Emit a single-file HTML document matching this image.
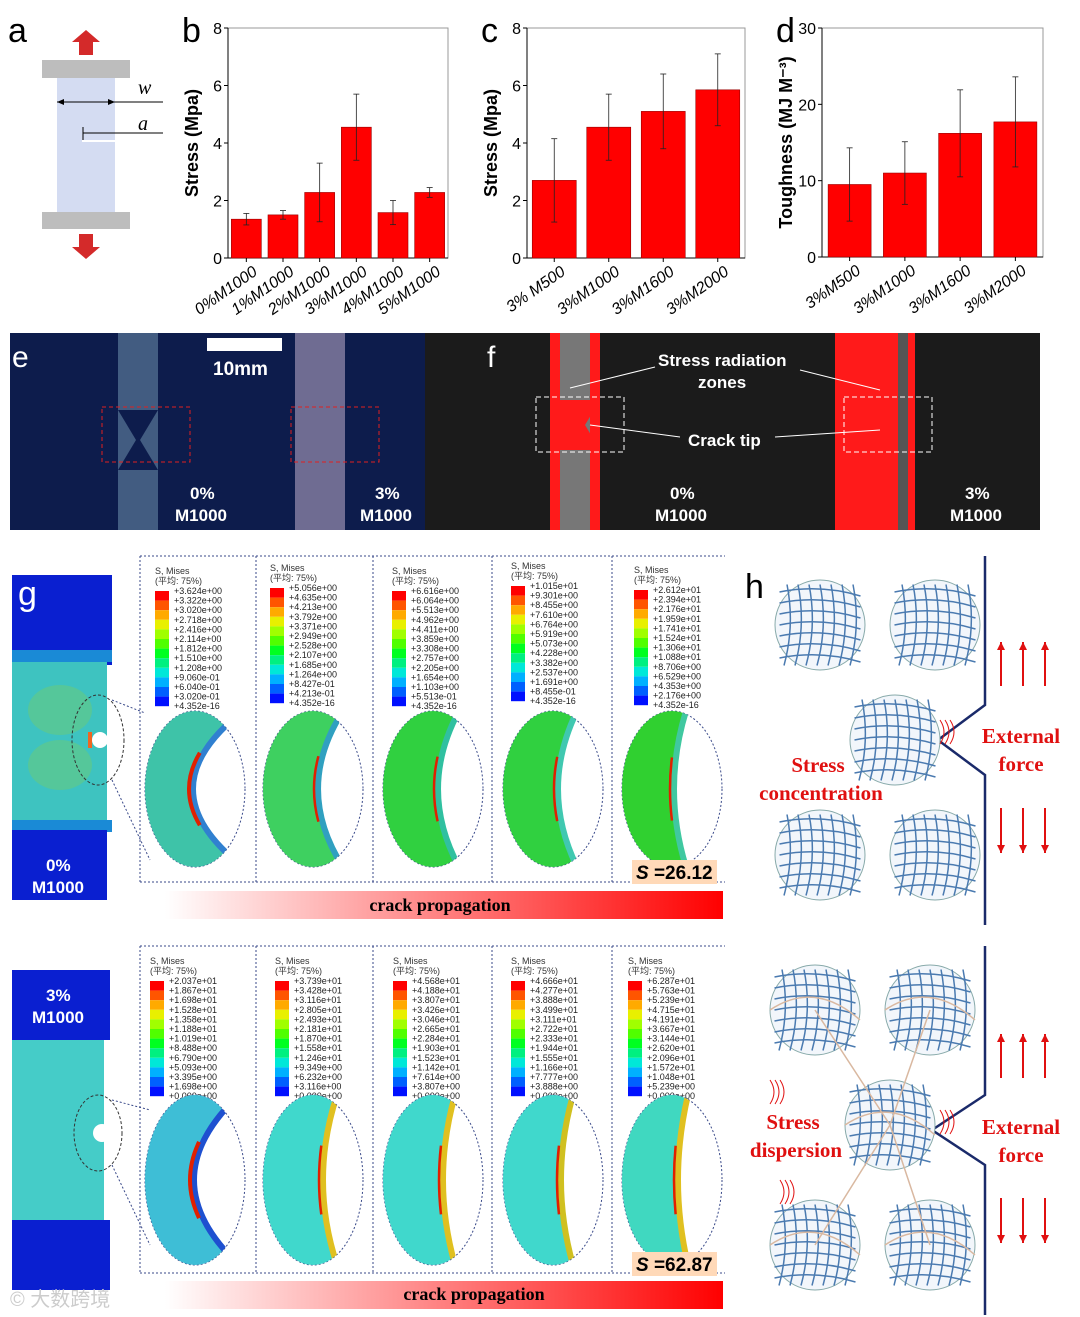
<!DOCTYPE html>
<html><head><meta charset="utf-8"><style>
body{margin:0;background:#fff}
svg{display:block;font-family:"Liberation Sans","Noto Sans CJK SC",sans-serif}
</style></head><body>
<svg id="fig" width="1080" height="1317" viewBox="0 0 1080 1317" xmlns="http://www.w3.org/2000/svg">
<defs id="defs">
<linearGradient id="crackG" x1="0" x2="1"><stop offset="0" stop-color="#fff"/><stop offset="1" stop-color="#f00"/></linearGradient>
</defs>
<!-- panel a -->
<g>
<text x="8" y="42" font-size="34">a</text>
<rect x="57" y="78" width="58" height="134" fill="#d4dcf2"/>
<rect x="42" y="60" width="88" height="18" fill="#bdbdbd"/>
<rect x="42" y="212" width="88" height="17" fill="#bdbdbd"/>
<polygon points="86,30 100,42 93,42 93,55 79,55 79,42 72,42" fill="#d42a2a"/>
<polygon points="86,259 100,247 93,247 93,234 79,234 79,247 72,247" fill="#d42a2a"/>
<line x1="57" y1="102" x2="163" y2="102" stroke="#000"/><polygon points="57,102 64,99 64,105"/><polygon points="115,102 108,99 108,105"/>
<text x="138" y="94" font-size="20" font-style="italic" font-family="Liberation Serif,serif">w</text>
<line x1="83" y1="133" x2="163" y2="133" stroke="#000"/><line x1="83" y1="127" x2="83" y2="140" stroke="#000"/>
<line x1="82" y1="141" x2="115" y2="141" stroke="#fff" stroke-width="2"/>
<text x="138" y="130" font-size="20" font-style="italic" font-family="Liberation Serif,serif">a</text>
</g>
<g id="charts"></g>
<!-- panel e -->
<g>
<rect x="10" y="333" width="415" height="197" fill="#0d1c4c"/>
<rect x="118" y="333" width="40" height="197" fill="#5a7898" opacity="0.7"/>
<rect x="295" y="333" width="50" height="197" fill="#9a8fb0" opacity="0.7"/>
<polygon points="118,410 158,410 140,440 158,470 118,470 136,440" fill="#0d1c4c"/>
<rect x="102" y="407" width="88" height="55" fill="none" stroke="#e02020" stroke-dasharray="4,3"/>
<rect x="291" y="407" width="88" height="55" fill="none" stroke="#e02020" stroke-dasharray="4,3"/>
<rect x="207" y="338" width="75" height="13" fill="#fff"/>
<text x="213" y="375" font-size="19" font-weight="bold" fill="#fff">10mm</text>
<text x="12" y="367" font-size="30" fill="#fff">e</text>
<text x="190" y="499" font-size="17" font-weight="bold" fill="#fff">0%</text>
<text x="175" y="521" font-size="17" font-weight="bold" fill="#fff">M1000</text>
<text x="375" y="499" font-size="17" font-weight="bold" fill="#fff">3%</text>
<text x="360" y="521" font-size="17" font-weight="bold" fill="#fff">M1000</text>
</g>
<!-- panel f -->
<g>
<rect x="425" y="333" width="615" height="197" fill="#1b1b1b"/>
<rect x="550" y="333" width="50" height="197" fill="#ff1a1a"/>
<rect x="560" y="333" width="30" height="197" fill="#777"/>
<polygon points="560,400 600,400 585,425 600,450 560,450" fill="#ff1a1a"/>
<rect x="835" y="333" width="80" height="197" fill="#ff1a1a"/>
<rect x="898" y="333" width="10" height="197" fill="#555"/>
<rect x="536" y="397" width="88" height="55" fill="none" stroke="#fff" stroke-dasharray="5,3"/>
<rect x="844" y="397" width="88" height="55" fill="none" stroke="#fff" stroke-dasharray="5,3"/>
<text x="487" y="367" font-size="30" fill="#fff">f</text>
<text x="658" y="366" font-size="17" font-weight="bold" fill="#fff">Stress radiation</text>
<text x="698" y="388" font-size="17" font-weight="bold" fill="#fff">zones</text>
<text x="688" y="446" font-size="17" font-weight="bold" fill="#fff">Crack tip</text>
<line x1="655" y1="367" x2="570" y2="388" stroke="#fff"/><line x1="800" y1="370" x2="880" y2="390" stroke="#fff"/>
<line x1="680" y1="437" x2="590" y2="425" stroke="#fff"/><line x1="775" y1="437" x2="880" y2="430" stroke="#fff"/>
<text x="670" y="499" font-size="17" font-weight="bold" fill="#fff">0%</text>
<text x="655" y="521" font-size="17" font-weight="bold" fill="#fff">M1000</text>
<text x="965" y="499" font-size="17" font-weight="bold" fill="#fff">3%</text>
<text x="950" y="521" font-size="17" font-weight="bold" fill="#fff">M1000</text>
</g>
<!-- panel g specimens -->
<g>
<rect x="12" y="575" width="100" height="90" fill="#0a1fd0"/>
<rect x="12" y="655" width="95" height="175" fill="#3ec3c0"/>
<rect x="12" y="650" width="100" height="12" fill="#1a8ad6"/>
<rect x="12" y="820" width="100" height="12" fill="#1a8ad6"/>
<ellipse cx="60" cy="710" rx="32" ry="25" fill="#55c79a"/>
<ellipse cx="60" cy="765" rx="32" ry="25" fill="#55c79a"/>
<rect x="12" y="830" width="95" height="70" fill="#0a1fd0"/>
<ellipse cx="98" cy="740" rx="26" ry="45" fill="none" stroke="#333" stroke-dasharray="3,2"/>
<circle cx="100" cy="740" r="8" fill="#fff"/><rect x="88" y="732" width="4" height="16" fill="#e62"/>
<line x1="112" y1="700" x2="145" y2="713" stroke="#3a4a8a" stroke-dasharray="2,2"/>
<line x1="112" y1="780" x2="150" y2="860" stroke="#3a4a8a" stroke-dasharray="2,2"/>
<text x="18" y="605" font-size="34" fill="#fff">g</text>
<text x="46" y="871" font-size="17" font-weight="bold" fill="#fff">0%</text>
<text x="32" y="893" font-size="17" font-weight="bold" fill="#fff">M1000</text>
<rect x="12" y="970" width="98" height="70" fill="#0a1fd0"/>
<rect x="12" y="1040" width="92" height="180" fill="#45ccc8"/>
<rect x="12" y="1220" width="98" height="70" fill="#0a1fd0"/>
<ellipse cx="98" cy="1133" rx="24" ry="38" fill="none" stroke="#333" stroke-dasharray="3,2"/>
<circle cx="102" cy="1133" r="9" fill="#fff"/>
<line x1="112" y1="1100" x2="150" y2="1110" stroke="#3a4a8a" stroke-dasharray="2,2"/>
<line x1="112" y1="1165" x2="150" y2="1245" stroke="#3a4a8a" stroke-dasharray="2,2"/>
<text x="46" y="1001" font-size="17" font-weight="bold" fill="#fff">3%</text>
<text x="32" y="1023" font-size="17" font-weight="bold" fill="#fff">M1000</text>
<rect x="165" y="891" width="558" height="28" fill="url(#crackG)"/>
<text x="440" y="911" font-size="18" font-weight="bold" text-anchor="middle" font-family="Liberation Serif,serif">crack propagation</text>
<rect x="165" y="1281" width="558" height="28" fill="url(#crackG)"/>
<text x="474" y="1300" font-size="18" font-weight="bold" text-anchor="middle" font-family="Liberation Serif,serif">crack propagation</text>
</g>
<g id="fea"></g>
<g>
<rect x="632" y="860" width="85" height="24" fill="#ffd9b8"/>
<text x="636" y="879" font-size="19" font-weight="bold"><tspan font-style="italic">S</tspan> =26.12</text>
<rect x="632" y="1252" width="85" height="24" fill="#ffd9b8"/>
<text x="636" y="1271" font-size="19" font-weight="bold"><tspan font-style="italic">S</tspan> =62.87</text>
</g>
<!-- panel h -->
<g id="h">
<text x="745" y="598" font-size="34">h</text>
<path d="M985,556 L985,705 L938,740 L985,775 L985,925" fill="none" stroke="#1a2a6a" stroke-width="2.5"/>
<path d="M985,946 L985,1095 L932,1130 L985,1165 L985,1315" fill="none" stroke="#1a2a6a" stroke-width="2.5"/>
<text x="1021" y="743" font-size="21" fill="#e01010" text-anchor="middle" font-family="Liberation Serif,serif" font-weight="bold">External</text>
<text x="1021" y="771" font-size="21" fill="#e01010" text-anchor="middle" font-family="Liberation Serif,serif" font-weight="bold">force</text>
<text x="818" y="772" font-size="21" fill="#e01010" text-anchor="middle" font-family="Liberation Serif,serif" font-weight="bold">Stress</text>
<text x="821" y="800" font-size="21" fill="#e01010" text-anchor="middle" font-family="Liberation Serif,serif" font-weight="bold">concentration</text>
<text x="1021" y="1134" font-size="21" fill="#e01010" text-anchor="middle" font-family="Liberation Serif,serif" font-weight="bold">External</text>
<text x="1021" y="1162" font-size="21" fill="#e01010" text-anchor="middle" font-family="Liberation Serif,serif" font-weight="bold">force</text>
<text x="793" y="1129" font-size="21" fill="#e01010" text-anchor="middle" font-family="Liberation Serif,serif" font-weight="bold">Stress</text>
<text x="796" y="1157" font-size="21" fill="#e01010" text-anchor="middle" font-family="Liberation Serif,serif" font-weight="bold">dispersion</text>
</g>
<text x="10" y="1306" font-size="20" fill="#ccc">© 大数跨境</text>
</svg>
<script>
const NS='http://www.w3.org/2000/svg';
function mk(p,t,a,txt){const e=document.createElementNS(NS,t);for(const k in a)e.setAttribute(k,a[k]);if(txt!==undefined)e.textContent=txt;p.appendChild(e);return e;}
// chart data
const catsB=['0%M1000','1%M1000','2%M1000','3%M1000','4%M1000','5%M1000'];
const valsB=[1.35,1.5,2.28,4.55,1.58,2.28];
const errB=[0.2,0.15,1.02,1.15,0.42,0.17];
const catsC=['3%  M500','3%M1000','3%M1600','3%M2000'];
const valsC=[2.7,4.55,5.1,5.85];
const errC=[1.45,1.15,1.3,1.25];
const catsD=['3%M500','3%M1000','3%M1600','3%M2000'];
const valsD=[9.5,11,16.2,17.7];
const errD=[4.8,4.1,5.7,5.9];
const ticksStress=[0,2,4,6,8];
const ticksTough=[0,10,20,30];
const charts=document.getElementById('charts');
function chart(o){
  const g=mk(charts,'g',{});
  
  
  const y=v=>o.y1-(v-o.min)/(o.max-o.min)*(o.y1-o.y0);
  const step=(o.x1-o.x0)/o.cats.length;
  const x=i=>o.x0+step*(i+0.5);
  mk(g,'rect',{x:o.x0,y:o.y0,width:o.x1-o.x0,height:o.y1-o.y0,fill:'none',stroke:'#999'});
  mk(g,'line',{x1:o.x0,y1:o.y0,x2:o.x0,y2:o.y1,stroke:'#000'});
  mk(g,'line',{x1:o.x0,y1:o.y1,x2:o.x1,y2:o.y1,stroke:'#000'});
  o.ticks.forEach(t=>{const yy=y(t);
    mk(g,'line',{x1:o.x0-4,y1:yy,x2:o.x0,y2:yy,stroke:'#000'});
    const tl=mk(g,'text',{x:o.x0-6,y:yy+6,'font-size':16,'text-anchor':'end'},t);
    
    });
  o.cats.forEach((c,i)=>{
    const b=mk(g,'rect',{x:x(i)-o.bw/2,y:y(o.vals[i]),width:o.bw,height:y(o.min)-y(o.vals[i]),fill:'#ff0000',stroke:'#900','stroke-width':0.6});
    
    
    const t=y(o.vals[i]+o.err[i]),bo=y(o.vals[i]-o.err[i]);
    mk(g,'line',{x1:x(i),y1:t,x2:x(i),y2:bo,stroke:'#222','stroke-width':0.8});
    mk(g,'line',{x1:x(i)-3,y1:t,x2:x(i)+3,y2:t,stroke:'#222','stroke-width':0.8});
    mk(g,'line',{x1:x(i)-3,y1:bo,x2:x(i)+3,y2:bo,stroke:'#222','stroke-width':0.8});
    mk(g,'line',{x1:x(i),y1:o.y1,x2:x(i),y2:o.y1+4,stroke:'#000'});
    const l=mk(g,'text',{x:x(i)+12,y:o.y1+16,'font-size':16,'font-style':'italic','text-anchor':'end',transform:`rotate(-35 ${x(i)+12} ${o.y1+16})`},c);
    
    
  });
  const cy=(o.y0+o.y1)/2;
  const at=mk(g,'text',{x:o.x0-30,y:cy,'font-size':18,'font-weight':'bold','text-anchor':'middle',transform:`rotate(-90 ${o.x0-30} ${cy})`},o.title);
  
  
  const pl=mk(g,'text',{x:o.x0-46,y:o.y0+14,'font-size':34},o.id);
  
  
}
chart({id:'b',x0:228,x1:448,y0:28,y1:258,min:0,max:8,ticks:ticksStress,cats:catsB,vals:valsB,err:errB,bw:30,title:'Stress (Mpa)'});
chart({id:'c',x0:527,x1:745,y0:28,y1:258,min:0,max:8,ticks:ticksStress,cats:catsC,vals:valsC,err:errC,bw:44,title:'Stress (Mpa)'});
chart({id:'d',x0:822,x1:1043,y0:28,y1:257,min:0,max:30,ticks:ticksTough,cats:catsD,vals:valsD,err:errD,bw:43,title:'Toughness (MJ M⁻³)'});

// FEA legends
const fea=document.getElementById('fea');
const defs=document.getElementById('defs');
const cols=['#ff0000','#ff5500','#ffaa00','#e8f000','#a0ff00','#50ff00','#00ff20','#00f080','#00e8d8','#00b0ff','#0060ff','#0010ff'];
const topLeg=[
['+3.624e+00','+3.322e+00','+3.020e+00','+2.718e+00','+2.416e+00','+2.114e+00','+1.812e+00','+1.510e+00','+1.208e+00','+9.060e-01','+6.040e-01','+3.020e-01','+4.352e-16'],
['+5.056e+00','+4.635e+00','+4.213e+00','+3.792e+00','+3.371e+00','+2.949e+00','+2.528e+00','+2.107e+00','+1.685e+00','+1.264e+00','+8.427e-01','+4.213e-01','+4.352e-16'],
['+6.616e+00','+6.064e+00','+5.513e+00','+4.962e+00','+4.411e+00','+3.859e+00','+3.308e+00','+2.757e+00','+2.205e+00','+1.654e+00','+1.103e+00','+5.513e-01','+4.352e-16'],
['+1.015e+01','+9.301e+00','+8.455e+00','+7.610e+00','+6.764e+00','+5.919e+00','+5.073e+00','+4.228e+00','+3.382e+00','+2.537e+00','+1.691e+00','+8.455e-01','+4.352e-16'],
['+2.612e+01','+2.394e+01','+2.176e+01','+1.959e+01','+1.741e+01','+1.524e+01','+1.306e+01','+1.088e+01','+8.706e+00','+6.529e+00','+4.353e+00','+2.176e+00','+4.352e-16']];
const botLeg=[
['+2.037e+01','+1.867e+01','+1.698e+01','+1.528e+01','+1.358e+01','+1.188e+01','+1.019e+01','+8.488e+00','+6.790e+00','+5.093e+00','+3.395e+00','+1.698e+00','+0.000e+00'],
['+3.739e+01','+3.428e+01','+3.116e+01','+2.805e+01','+2.493e+01','+2.181e+01','+1.870e+01','+1.558e+01','+1.246e+01','+9.349e+00','+6.232e+00','+3.116e+00','+0.000e+00'],
['+4.568e+01','+4.188e+01','+3.807e+01','+3.426e+01','+3.046e+01','+2.665e+01','+2.284e+01','+1.903e+01','+1.523e+01','+1.142e+01','+7.614e+00','+3.807e+00','+0.000e+00'],
['+4.666e+01','+4.277e+01','+3.888e+01','+3.499e+01','+3.111e+01','+2.722e+01','+2.333e+01','+1.944e+01','+1.555e+01','+1.166e+01','+7.777e+00','+3.888e+00','+0.000e+00'],
['+6.287e+01','+5.763e+01','+5.239e+01','+4.715e+01','+4.191e+01','+3.667e+01','+3.144e+01','+2.620e+01','+2.096e+01','+1.572e+01','+1.048e+01','+5.239e+00','+0.000e+00']];
const topX=[155,270,392,511,634], topY=[588,585,588,583,587];
const botX=[150,275,393,511,628], botY=[978,978,978,978,978];
const ellX=[195,313,433,553,672];
let cid=0;
function row(leg,xs,ys,ecy,ery,fill,edge,y0,y1,bx,cut){
  mk(fea,'line',{x1:bx[0],y1:y0,x2:725,y2:y0,stroke:'#3a4a8a','stroke-dasharray':'2,2'});
  mk(fea,'line',{x1:bx[0],y1:y1,x2:725,y2:y1,stroke:'#3a4a8a','stroke-dasharray':'2,2'});
  bx.forEach(b=>mk(fea,'line',{x1:b,y1:y0,x2:b,y2:y1,stroke:'#3a4a8a','stroke-dasharray':'2,2'}));
  leg.forEach((L,k)=>{
    const g=mk(fea,'g',{});
    
    
    mk(g,'text',{x:xs[k],y:ys[k]-14,'font-size':9,fill:'#333'},'S, Mises');
    mk(g,'text',{x:xs[k],y:ys[k]-4,'font-size':9,fill:'#333'},'(平均: 75%)');
    cols.forEach((c,i)=>mk(g,'rect',{x:xs[k],y:ys[k]+i*9.6+3,width:14,height:9.6,fill:c}));
    L.forEach((v,i)=>mk(g,'text',{x:xs[k]+19,y:ys[k]+i*9.6+6,'font-size':9,fill:'#222'},v));
    const cx=ellX[k];
    const id='ec'+(cid++);
    const cp=mk(defs,'clipPath',{id});
    mk(cp,'ellipse',{cx,cy:ecy,rx:50,ry:ery});
    const e=mk(fea,'g',{});
    
    
    mk(e,'ellipse',{cx:cx,cy:ecy,rx:50,ry:ery,fill:'#fff',stroke:'#3a4a8a','stroke-dasharray':'2,2'});
    const c=cut[k];
    const inner=mk(e,'g',{'clip-path':`url(#${id})`});
    const bd=`M${cx+c[0]},${ecy-ery} Q${cx+c[1]},${ecy} ${cx+c[0]},${ecy+ery}`;
    mk(inner,'path',{d:`M${cx-60},${ecy-ery} L${cx+c[0]},${ecy-ery} Q${cx+c[1]},${ecy} ${cx+c[0]},${ecy+ery} L${cx-60},${ecy+ery}Z`,fill:fill[k]});
    mk(inner,'path',{d:bd,fill:'none',stroke:edge[k],'stroke-width':6});
    mk(inner,'path',{d:bd,fill:'none',stroke:'#e02000','stroke-width':k==0?4:2.5,pathLength:100,'stroke-dasharray':'0 30 40 100',transform:'translate(-4,0)'});
  });
}
row(topLeg,topX,topY,789,78,['#3ec3a8','#3ed060','#30d040','#30d040','#30d030'],['#3080d0','#30a0c0','#30c0a0','#40c8b0','#40c8a0'],556,882,[140,256,373,492,612],
  [[48,-52],[30,-20],[26,-16],[24,-14],[14,-10]]);
row(botLeg,botX,botY,1180,85,['#3ebed6','#40d8cc','#40d8cc','#40d8cc','#40d8c0'],['#1e50d0','#e0c020','#e0c020','#d0c020','#e0c020'],946,1273,[140,256,373,492,612],
  [[44,-46],[24,-4],[22,-2],[20,-4],[16,-4]]);

// panel h circles
const h=document.getElementById('h');
const circTop=[[820,625],[935,625],[895,740],[820,855],[935,855]];
const circBot=[[815,1010],[930,1010],[890,1125],[815,1245],[930,1245]];
function net(cx,cy,r,strands){
  const g=mk(h,'g',{});
  
  
  mk(g,'circle',{cx,cy,r,fill:'#f2f6fb',stroke:'#8aa'});
  for(let i=-3;i<=3;i++){
    mk(g,'path',{d:`M${cx-r*0.9},${cy+i*11} Q${cx},${cy+i*11-8} ${cx+r*0.9},${cy+i*11+4}`,fill:'none',stroke:'#4a7ab0','stroke-width':1.5});
    mk(g,'path',{d:`M${cx+i*11},${cy-r*0.9} Q${cx+i*11+8},${cy} ${cx+i*11-3},${cy+r*0.9}`,fill:'none',stroke:'#4a7ab0','stroke-width':1.5});
  }
  if(strands) mk(g,'path',{d:`M${cx-r},${cy} Q${cx},${cy-30} ${cx+r},${cy+10}`,fill:'none',stroke:'#d9b8a0','stroke-width':1.5});
}
circTop.forEach(c=>net(c[0],c[1],45,false));
circBot.forEach(c=>net(c[0],c[1],45,true));
[[890,1125,815,1010],[890,1125,930,1010],[890,1125,815,1245],[890,1125,930,1245]].forEach(l=>mk(h,'line',{x1:l[0],y1:l[1],x2:l[2],y2:l[3],stroke:'#d9b8a0','stroke-width':1.5}));
function arr(x,y1,y2){mk(h,'line',{x1:x,y1:y1,x2:x,y2:y2,stroke:'#e01010','stroke-width':2});const d=y2<y1?-1:1;mk(h,'polygon',{points:`${x-4},${y2-d*8} ${x+4},${y2-d*8} ${x},${y2}`,fill:'#e01010'});}
[1001,1023,1045].forEach(x=>{arr(x,686,642);arr(x,808,853);arr(x,1078,1034);arr(x,1198,1243);});
[[940,720],[940,1110],[770,1080],[780,1180]].forEach(p=>{for(let i=0;i<3;i++)mk(h,'path',{d:`M${p[0]+i*5},${p[1]} q8,12 0,24`,fill:'none',stroke:'#e01010','stroke-width':1});});
</script>
</body></html>
